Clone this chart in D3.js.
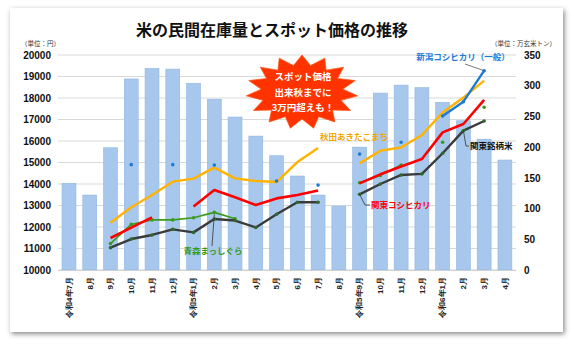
<!DOCTYPE html>
<html><head><meta charset="utf-8">
<script src="https://cdn.jsdelivr.net/npm/d3@7"></script>
<style>
body{margin:0;background:#fff;}
svg{display:block;font-family:"Noto Sans CJK JP","Noto Sans",sans-serif;}
</style></head>
<body><svg id="c" width="576" height="344"></svg>
<script>
const categories = ["令和4年7月","8月","9月","10月","11月","12月","令和5年1月","2月","3月","4月","5月","6月","7月","8月","令和5年9月","10月","11月","12月","令和6年1月","2月","3月","4月"];
// 民間在庫量 (万玄米トン)
const stock = [141,122,199,311,328,327,304,278,249,218,186,153,122,104,200,288,301,297,273,243,213,179];
// スポット価格 (円)
const niigata = [null,null,null,14900,null,14900,null,14880,null,null,14140,null,13950,null,15390,null,15940,null,17160,17830,19270,null];
const akita   = [null,null,12200,12920,13490,14110,14250,14760,14260,14140,14090,15020,15670,null,14960,15550,15700,16280,17330,18020,18810,null];
const kantoKoshi = [null,null,11490,11970,12450,null,12950,13720,13380,13020,13330,13490,13700,null,14030,14450,14810,15160,16400,16790,17910,null];
const aomori  = [null,null,11230,12120,12330,12330,12430,12680,12380,null,null,null,null,null,14060,14400,14880,null,15940,null,17570,null];
const kantoBrand = [null,null,11040,11440,11630,11890,11750,12370,12300,11980,12590,13150,13150,null,13520,14000,14420,14470,15430,16480,16930,null];
const leftTicks = [10000,11000,12000,13000,14000,15000,16000,17000,18000,19000,20000];
const rightTicks = [0,50,100,150,200,250,300,350];

const svg = d3.select("#c");
const defs = svg.append("defs");
const f = defs.append("filter").attr("id","sh").attr("x","-5%").attr("y","-5%").attr("width","110%").attr("height","112%");
f.append("feDropShadow").attr("dx",1.5).attr("dy",2).attr("stdDeviation",2.5).attr("flood-color","#555").attr("flood-opacity",0.7);
svg.append("rect").attr("x",10).attr("y",8).attr("width",553).attr("height",324).attr("fill","#fff").attr("filter","url(#sh)");

const x = d3.scaleBand().domain(d3.range(categories.length)).range([58.6,515.3]).paddingInner(0.33).paddingOuter(0.165);
const yL = d3.scaleLinear().domain([10000,20000]).range([270,55]);
const yR = d3.scaleLinear().domain([0,350]).range([270,55]);
const cx = i => x(i) + x.bandwidth()/2;

// gridlines
svg.append("g").selectAll("line").data(leftTicks).join("line")
  .attr("x1",58).attr("x2",516).attr("y1",d=>yL(d)).attr("y2",d=>yL(d))
  .attr("stroke","#d9d9d9").attr("stroke-width",1);

// bars
svg.append("g").selectAll("rect").data(stock).join("rect")
  .attr("x",(d,i)=>x(i)).attr("width",x.bandwidth())
  .attr("y",d=>yR(d)).attr("height",d=>yR(0)-yR(d))
  .attr("fill","#a7c8ec").attr("stroke","#8fb6e2").attr("stroke-width",0.6);

// left axis
const ax = svg.append("g").attr("transform","translate(51,0)")
  .call(d3.axisLeft(yL).tickValues(leftTicks).tickSize(0).tickPadding(0).tickFormat(d3.format("d")));
ax.select(".domain").remove();
ax.selectAll("text").attr("font-family","Liberation Sans, Arial, sans-serif").attr("font-weight","bold").attr("font-size",10).attr("fill","#111");
// right axis
const ar = svg.append("g").attr("transform","translate(524,0)")
  .call(d3.axisRight(yR).tickValues(rightTicks).tickSize(0).tickPadding(0));
ar.select(".domain").remove();
ar.selectAll("text").attr("font-family","Liberation Sans, Arial, sans-serif").attr("font-weight","bold").attr("font-size",10).attr("fill","#111");
// bottom axis
const axb = svg.append("g").attr("transform","translate(0,270)")
  .call(d3.axisBottom(x).tickSize(0).tickFormat(i=>categories[i]));
axb.select(".domain").attr("stroke","#d0d0d0").attr("d","M58,0.5H516");
axb.selectAll("text").attr("font-size",8).attr("font-weight","bold").attr("fill","#222")
  .attr("text-anchor","end").attr("dy","0.35em").attr("transform","rotate(-90)").attr("x",-7).attr("y",0);

// lines
const series = [
  {v:aomori, c:"#3a9a1c", w:1.6, m:true, mc:"#3a9a1c"},
  {v:kantoBrand, c:"#3b3b3b", w:2.4, m:true, mc:"#2f6a2a"},
  {v:kantoKoshi, c:"#ff0000", w:2.6, m:false},
  {v:akita, c:"#ffb300", w:2.4, m:false},
  {v:niigata, c:"#1e7ad6", w:2.4, m:true, mc:"#1e7ad6"}
];
const line = d3.line().defined(d=>d[1]!=null).x(d=>cx(d[0])).y(d=>yL(d[1]));
series.forEach(s=>{
  const pts = s.v.map((d,i)=>[i,d]);
  svg.append("path").datum(pts).attr("d",line).attr("fill","none")
    .attr("stroke",s.c).attr("stroke-width",s.w).attr("stroke-linejoin","round");
  if(s.m){
    svg.append("g").selectAll("circle").data(pts.filter(p=>p[1]!=null)).join("circle")
      .attr("cx",p=>cx(p[0])).attr("cy",p=>yL(p[1])).attr("r",1.8).attr("fill",s.mc);
  }
});

// title & units
svg.append("text").attr("x",272).attr("y",36).attr("text-anchor","middle").attr("font-size",16).attr("font-weight","bold").attr("fill","#111").text("米の民間在庫量とスポット価格の推移");
svg.append("text").attr("x",21).attr("y",46).attr("font-size",6.5).attr("fill","#333").text("（単位：円）");
svg.append("text").attr("x",556).attr("y",46).attr("text-anchor","end").attr("font-size",6.5).attr("fill","#333").text("（単位：万玄米トン）");

// leaders & labels
const lead = (pts,col)=>svg.append("path").attr("d",d3.line()(pts)).attr("fill","none").attr("stroke",col).attr("stroke-width",0.8);
lead([[465,64],[cx(20),yL(niigata[20])]],"#555");
svg.append("text").attr("x",463).attr("y",60).attr("text-anchor","middle").attr("font-size",8.5).attr("font-weight","bold").attr("fill","#1e7ad6").text("新潟コシヒカリ（一般）");
svg.append("text").attr("x",320).attr("y",140).attr("font-size",8.5).attr("font-weight","bold").attr("fill","#f0a800").text("秋田あきたこまち");
lead([[cx(7),yL(aomori[7])+2],[212,246]],"#333");
svg.append("text").attr("x",213).attr("y",254).attr("text-anchor","middle").attr("font-size",8.5).attr("font-weight","bold").attr("fill","#3a9a1c").text("青森まっしぐら");
lead([[cx(14),yL(kantoBrand[14])],[365,205],[370,205]],"#333");
svg.append("text").attr("x",371).attr("y",208).attr("font-size",8.5).attr("font-weight","bold").attr("fill","#ff0000").text("関東コシヒカリ");
lead([[cx(19),yL(kantoBrand[19])],[466,146],[469,146]],"#333");
svg.append("text").attr("x",470).attr("y",149).attr("font-size",8.5).attr("font-weight","bold").attr("fill","#111").text("関東銘柄米");

// starburst
const sx=302, sy=92, n=15;
const star=[];
for(let k=0;k<n*2;k++){
  const a = -Math.PI/2 + k*Math.PI/n;
  const outer = k%2===0;
  const rx = outer?56:41, ry = outer?37:27;
  star.push([sx+rx*Math.cos(a), sy+ry*Math.sin(a)]);
}
svg.append("path").attr("d",d3.line()(star)+"Z").attr("fill","#ff3300").attr("stroke","#ff5a1f").attr("stroke-width",0.8);
["スポット価格","出来秋までに","3万円超えも！"].forEach((t,k)=>{
  svg.append("text").attr("x",303).attr("y",80+k*15.5).attr("text-anchor","middle").attr("font-size",9.5).attr("font-weight","bold").attr("fill","#fff").text(t);
});
</script></body></html>
